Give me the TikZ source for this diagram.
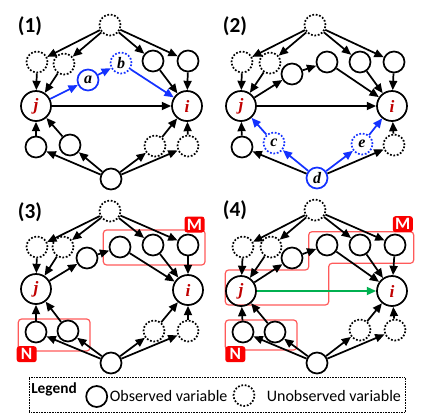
\documentclass[tikz,border=0pt]{standalone}
\usepackage{fontspec}
\setmainfont{Carlito}
\newfontfamily\varfont{Liberation Serif}
\usetikzlibrary{arrows.meta}
\definecolor{varblue}{RGB}{20,50,255}
\definecolor{jred}{RGB}{192,0,0}
\definecolor{grpred}{RGB}{255,90,90}
\definecolor{tagred}{RGB}{250,0,0}
\definecolor{dirgreen}{RGB}{0,176,80}
\tikzset{every picture/.style={line width=1.3pt}}
\tikzset{
  obs/.style={circle, draw, line width=1.3pt, minimum size=15.75pt, inner sep=0pt,
    font=\varfont\bfseries\itshape\fontsize{12}{12}\selectfont},
  hid/.style={obs, dash pattern=on 1.3pt off 1.3pt},
  big/.style={obs, minimum size=22.5pt, text=jred, font=\varfont\bfseries\itshape\fontsize{13}{13}\selectfont},
  arr/.style={-{Triangle[length=7pt,width=6pt]}, line width=1.3pt},
  blu/.style={arr, draw=varblue, fill=varblue},
  grp/.style={draw=grpred, line width=0.9pt, rounded corners=2.5pt},
  tag/.style={fill=tagred, text=white, font=\bfseries\fontsize{13}{13}\selectfont,
    rounded corners=2pt, minimum width=15pt, minimum height=12pt, inner sep=0pt},
  panel/.style={font=\bfseries\fontsize{16}{16}\selectfont, inner sep=0pt}
}

\begin{document}
\begin{tikzpicture}[x=0.75pt,y=0.75pt,yscale=-1,xscale=1]
\useasboundingbox (0,0) rectangle (425,415);

%Panel (1)
\begin{scope}
\node[panel] (lab) at (30,26) {(1)};
\node[hid] (top) at (110,25) {};
\node[hid] (ul1) at (37,62) {};
\node[hid] (ul2) at (64,64) {};
\node[obs] (ur1) at (153,61) {};
\node[obs] (ur2) at (188,61) {};
\node[big] (j) at (36,106) {j};
\node[big] (i) at (187,106) {i};
\node[obs] (ll1) at (36,147) {};
\node[obs] (ll2) at (70,145) {};
\node[hid] (lr1) at (155,146) {};
\node[hid] (lr2) at (188,146) {};
\node[obs] (bot) at (111,179) {};
\node[obs,draw=varblue] (a) at (88,80) {a};
\node[hid,draw=varblue] (b) at (121,63) {b};
% arrows
\draw[arr] (top) -- (ul1);
\draw[arr] (top) -- (ul2);
\draw[arr] (top) -- (ur1);
\draw[arr] (top) -- (ur2);
\draw[arr] (ul1) -- (j);
\draw[arr] (ul2) -- (j);
\draw[arr] (ur1) -- (i);
\draw[arr] (ur2) -- (i);
\draw[arr] (j) -- (i);
\draw[arr] (ll1) -- (j);
\draw[arr] (ll2) -- (j);
\draw[arr] (bot) -- (ll1);
\draw[arr] (bot) -- (ll2);
\draw[arr] (bot) -- (lr1);
\draw[arr] (bot) -- (lr2);
\draw[arr] (lr1) -- (i);
\draw[arr] (lr2) -- (i);
\draw[blu] (j) -- (a);
\draw[blu] (a) -- (b);
\draw[blu] (b) -- (i);
\end{scope}

%Panel (2)
\begin{scope}[shift={(205,0)}]
\node[panel] (lab) at (30,26) {(2)};
\node[hid] (top) at (110,25) {};
\node[hid] (ul1) at (37,62) {};
\node[hid] (ul2) at (65,63) {};
\node[obs] (m1) at (87,74) {};
\node[obs] (m2) at (122,62) {};
\node[obs] (ur1) at (155,62) {};
\node[obs] (ur2) at (189,62) {};
\node[big] (j) at (36,106) {j};
\node[big] (i) at (187,106) {i};
\node[obs] (ll1) at (37,147) {};
\node[hid,draw=varblue] (c) at (69,143) {c};
\node[hid,draw=varblue] (e) at (157,144) {e};
\node[hid] (lr2) at (189,145) {};
\node[obs,draw=varblue] (d) at (112,178) {d};
% arrows
\draw[arr] (top) -- (ul1);
\draw[arr] (top) -- (ul2);
\draw[arr] (top) -- (ur1);
\draw[arr] (top) -- (ur2);
\draw[arr] (ul1) -- (j);
\draw[arr] (ul2) -- (j);
\draw[arr] (j) -- (m1);
\draw[arr] (m1) -- (m2);
\draw[arr] (m2) -- (i);
\draw[arr] (ur1) -- (i);
\draw[arr] (ur2) -- (i);
\draw[arr] (j) -- (i);
\draw[arr] (ll1) -- (j);
\draw[arr] (d) -- (ll1);
\draw[arr] (d) -- (lr2);
\draw[arr] (lr2) -- (i);
\draw[blu] (d) -- (c);
\draw[blu] (c) -- (j);
\draw[blu] (d) -- (e);
\draw[blu] (e) -- (i);
\end{scope}

%Panel (3)
\begin{scope}[shift={(0,184)}]
\draw[grp] (103.3,46) rectangle (205,81);
\draw[grp] (18.3,135) rectangle (90,167);
\node[tag] (mtag) at (194.5,40.5) {M};
\node[tag] (ntag) at (26.7,170.2) {N};
\node[panel] (lab) at (30,28) {(3)};
\node[hid] (top) at (110,27) {};
\node[hid] (ul1) at (37,63) {};
\node[hid] (ul2) at (63,63) {};
\node[obs] (m1) at (87,74) {};
\node[obs] (m2) at (120,63) {};
\node[obs] (ur1) at (153,61) {};
\node[obs] (ur2) at (188,61) {};
\node[big] (j) at (36,105) {j};
\node[big] (i) at (188,106) {i};
\node[obs] (ll1) at (36,148) {};
\node[obs] (ll2) at (68,147) {};
\node[hid] (lr1) at (154,147) {};
\node[hid] (lr2) at (188,147) {};
\node[obs] (bot) at (111,179) {};
% arrows
\draw[arr] (top) -- (ul1);
\draw[arr] (top) -- (ul2);
\draw[arr] (top) -- (ur1);
\draw[arr] (top) -- (ur2);
\draw[arr] (ul1) -- (j);
\draw[arr] (ul2) -- (j);
\draw[arr] (j) -- (m1);
\draw[arr] (m1) -- (m2);
\draw[arr] (m2) -- (i);
\draw[arr] (ur1) -- (i);
\draw[arr] (ur2) -- (i);
\draw[arr] (ll1) -- (j);
\draw[arr] (ll2) -- (j);
\draw[arr] (bot) -- (ll1);
\draw[arr] (bot) -- (ll2);
\draw[arr] (bot) -- (lr1);
\draw[arr] (bot) -- (lr2);
\draw[arr] (lr1) -- (i);
\draw[arr] (lr2) -- (i);
\end{scope}

%Panel (4)
\begin{scope}[shift={(205,184)}]
\draw[grp] (20.3,86) -- (103.7,86) -- (103.7,47.7) -- (208.7,47.7) -- (208.7,79.3)
  -- (123.7,79.3) -- (123.7,121) -- (20.3,121) -- cycle;
\draw[grp] (20.3,136) rectangle (92,166);
\node[tag] (mtag) at (197.8,40.2) {M};
\node[tag] (ntag) at (30.3,170.2) {N};
\node[panel] (lab) at (30,26) {(4)};
\node[hid] (top) at (110,26) {};
\node[hid] (ul1) at (38,63) {};
\node[hid] (ul2) at (66,63) {};
\node[obs] (m1) at (87,74) {};
\node[obs] (m2) at (122,61) {};
\node[obs] (ur1) at (155,61) {};
\node[obs] (ur2) at (190,61) {};
\node[big] (j) at (36,107) {j};
\node[big] (i) at (187,107) {i};
\node[obs] (ll1) at (38,148) {};
\node[obs] (ll2) at (70,148) {};
\node[hid] (lr1) at (155,146) {};
\node[hid] (lr2) at (190,146) {};
\node[obs] (bot) at (112,179) {};
% arrows
\draw[arr] (top) -- (ul1);
\draw[arr] (top) -- (ul2);
\draw[arr] (top) -- (ur1);
\draw[arr] (top) -- (ur2);
\draw[arr] (ul1) -- (j);
\draw[arr] (ul2) -- (j);
\draw[arr] (j) -- (m1);
\draw[arr] (m1) -- (m2);
\draw[arr] (m2) -- (i);
\draw[arr] (ur1) -- (i);
\draw[arr] (ur2) -- (i);
\draw[arr,draw=dirgreen,fill=dirgreen] (j) -- (i);
\draw[arr] (ll1) -- (j);
\draw[arr] (ll2) -- (j);
\draw[arr] (bot) -- (ll1);
\draw[arr] (bot) -- (ll2);
\draw[arr] (bot) -- (lr1);
\draw[arr] (bot) -- (lr2);
\draw[arr] (lr1) -- (i);
\draw[arr] (lr2) -- (i);
\end{scope}

%Legend
\draw[line width=0.6pt, dash pattern=on 0.6pt off 0.6pt] (29.3,377.7) rectangle (405,412.7);
\node[font=\bfseries\fontsize{11.5}{11.5}\selectfont, inner sep=0pt] (leg) at (54,389) {Legend};
\node[obs] (kobs) at (96.7,396.5) {};
\node[anchor=west, inner sep=0pt, font=\fontsize{12}{12}\selectfont] (kobstxt) at (109,396) {Observed variable};
\node[hid] (khid) at (244,395.5) {};
\node[anchor=west, inner sep=0pt, font=\fontsize{12}{12}\selectfont] (khidtxt) at (266,396) {Unobserved variable};

\end{tikzpicture}
\end{document}
